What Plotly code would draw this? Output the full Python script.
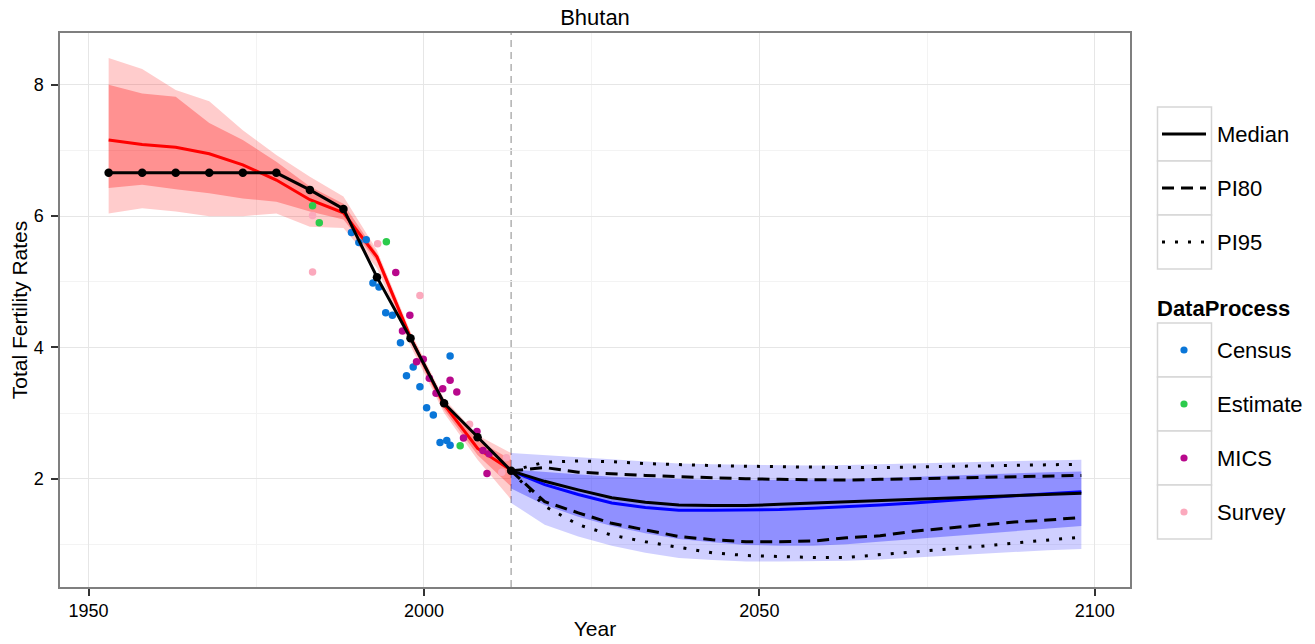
import plotly.graph_objects as go

# ---------------- data ----------------
est_years = [1953, 1958, 1963, 1968, 1973, 1978, 1983, 1988, 1993, 1998, 2003, 2008, 2013]
est_obs = [6.66, 6.66, 6.66, 6.66, 6.66, 6.66, 6.40, 6.11, 5.07, 4.14, 3.15, 2.63, 2.12]
est_median = [7.16, 7.09, 7.05, 6.95, 6.78, 6.55, 6.25, 6.05, 5.38, 4.15, 3.13, 2.46, 2.13]
est_u95 = [8.41, 8.24, 7.92, 7.75, 7.31, 6.93, 6.60, 6.30, 5.48, 4.24, 3.22, 2.66, 2.39]
est_u80 = [8.00, 7.87, 7.82, 7.42, 7.16, 6.83, 6.45, 6.19, 5.43, 4.20, 3.19, 2.58, 2.29]
est_l80 = [6.43, 6.48, 6.41, 6.35, 6.27, 6.22, 6.07, 5.95, 5.31, 4.08, 3.05, 2.36, 1.88]
est_l95 = [6.04, 6.12, 6.07, 6.00, 6.00, 6.04, 5.84, 5.82, 5.21, 4.02, 3.00, 2.29, 1.68]

proj_years = [2013, 2018, 2023, 2028, 2033, 2038, 2043, 2048, 2053, 2058,
              2063, 2068, 2073, 2078, 2083, 2088, 2093, 2098]
proj_median = [2.12, 1.96, 1.83, 1.71, 1.64, 1.60, 1.59, 1.59, 1.61, 1.63,
               1.65, 1.67, 1.69, 1.71, 1.73, 1.74, 1.76, 1.78]
proj_pi80_up = [2.12, 2.17, 2.10, 2.07, 2.05, 2.03, 2.01, 2.00, 1.99, 1.98,
                1.98, 1.99, 2.00, 2.01, 2.02, 2.03, 2.04, 2.05]
proj_pi80_lo = [2.12, 1.65, 1.48, 1.32, 1.22, 1.12, 1.07, 1.04, 1.04, 1.05,
                1.10, 1.13, 1.20, 1.25, 1.30, 1.34, 1.37, 1.41]
proj_pi95_up = [2.12, 2.25, 2.27, 2.26, 2.23, 2.21, 2.20, 2.19, 2.18, 2.17,
                2.17, 2.17, 2.18, 2.18, 2.19, 2.20, 2.21, 2.22]
proj_pi95_lo = [2.12, 1.58, 1.30, 1.14, 1.04, 0.96, 0.87, 0.83, 0.81, 0.80,
                0.80, 0.84, 0.88, 0.93, 0.97, 1.02, 1.06, 1.11]

band_median = [2.12, 1.91, 1.76, 1.63, 1.56, 1.52, 1.52, 1.52, 1.53, 1.55,
               1.57, 1.60, 1.63, 1.67, 1.71, 1.74, 1.77, 1.80]
band_u95 = [2.39, 2.36, 2.32, 2.29, 2.26, 2.23, 2.22, 2.21, 2.20, 2.20,
            2.21, 2.22, 2.23, 2.24, 2.25, 2.26, 2.28, 2.29]
band_u80 = [2.14, 2.10, 2.06, 2.03, 2.01, 1.99, 1.98, 1.98, 1.98, 1.98,
            1.99, 2.01, 2.03, 2.05, 2.06, 2.08, 2.10, 2.11]
band_l80 = [1.85, 1.60, 1.42, 1.28, 1.17, 1.08, 1.03, 0.99, 0.98, 0.98,
            1.00, 1.04, 1.08, 1.12, 1.17, 1.21, 1.25, 1.28]
band_l95 = [1.63, 1.30, 1.12, 0.98, 0.87, 0.79, 0.76, 0.74, 0.74, 0.74,
            0.75, 0.77, 0.80, 0.83, 0.86, 0.88, 0.91, 0.93]

census_x = [1989.2, 1990.3, 1991.4, 1992.4, 1993.3, 1994.3, 1995.3, 1996.5, 1997.4,
            1998.4, 1999.4, 2000.4, 2001.4, 2002.4, 2003.4, 2003.9, 2003.9]
census_y = [5.75, 5.60, 5.64, 4.98, 4.92, 4.53, 4.49, 4.07, 3.57,
            3.70, 3.40, 3.08, 2.97, 2.55, 2.58, 2.51, 3.87]
estimate_x = [1983.4, 1984.4, 1994.4, 2005.4]
estimate_y = [6.16, 5.90, 5.61, 2.50]
mics_x = [1995.8, 1996.8, 1997.9, 1998.9, 1999.9, 2000.8, 2001.8, 2002.8, 2003.9,
          2004.9, 2005.9, 2007.9, 2008.8, 2009.7, 2009.4]
mics_y = [5.14, 4.25, 4.49, 3.78, 3.82, 3.53, 3.30, 3.37, 3.50,
          3.32, 2.62, 2.72, 2.43, 2.38, 2.08]
survey_x = [1983.4, 1983.4, 1993.1, 1999.4, 2006.8, 2011.6, 2012.3]
survey_y = [6.01, 5.15, 5.58, 4.79, 2.83, 2.10, 2.32]

source_names = ["Census", "Estimate", "MICS", "Survey"]
source_colors = ["#0a76d8", "#2ccb4c", "#b8088c", "#fba9bd"]
line_names = ["Median", "PI80", "PI95"]
line_dashes = ["solid", "12px,7px", "3px,10px"]

# ---------------- figure ----------------
W, H = 1315, 644
ML, MR, MT, MB = 60, 185, 33, 57
FONT = "Liberation Sans, Arial, Helvetica, sans-serif"

fig = go.Figure()


def band(x, hi, lo, color):
    fig.add_trace(go.Scatter(x=x, y=hi, mode="lines", line=dict(width=0),
                             hoverinfo="skip", showlegend=False))
    fig.add_trace(go.Scatter(x=x, y=lo, mode="lines", line=dict(width=0),
                             fill="tonexty", fillcolor=color,
                             hoverinfo="skip", showlegend=False))


band(est_years, est_u95, est_l95, "rgba(255,0,0,0.2)")
band(est_years, est_u80, est_l80, "rgba(255,0,0,0.29)")
band(proj_years, band_u95, band_l95, "rgba(0,0,255,0.19)")
band(proj_years, band_u80, band_l80, "rgba(0,0,255,0.3)")

fig.add_trace(go.Scatter(x=est_years, y=est_median, mode="lines",
                         line=dict(color="#ff0000", width=3), showlegend=False))
fig.add_trace(go.Scatter(x=proj_years, y=band_median, mode="lines",
                         line=dict(color="#0000ff", width=3), showlegend=False))

for name, xs, ys, col in zip(source_names, [census_x, estimate_x, mics_x, survey_x],
                             [census_y, estimate_y, mics_y, survey_y], source_colors):
    fig.add_trace(go.Scatter(x=xs, y=ys, mode="markers", name=name,
                             marker=dict(color=col, size=7.5, line=dict(width=0)),
                             showlegend=False))

fig.add_trace(go.Scatter(x=est_years, y=est_obs, mode="lines+markers",
                         line=dict(color="black", width=3),
                         marker=dict(color="black", size=8.5), showlegend=False))

for ys, dash in [(proj_median, line_dashes[0]),
                 (proj_pi80_up, line_dashes[1]), (proj_pi80_lo, line_dashes[1]),
                 (proj_pi95_up, line_dashes[2]), (proj_pi95_lo, line_dashes[2])]:
    fig.add_trace(go.Scatter(x=proj_years, y=ys, mode="lines",
                             line=dict(color="black", width=3, dash=dash),
                             showlegend=False))

fig.add_vline(x=est_years[-1], line=dict(color="#b5b5b5", width=1.6, dash="7px,5px"),
              layer="below")

# ---------------- custom legend (decoration) ----------------
pw, ph = W - ML - MR, H - MT - MB


def px(x):
    return (x - ML) / pw


def py(y):
    return (H - MB - y) / ph


box_l, box_r = 1157.5, 1211.5
key_border = "#d6d6d6"

# group 1
tops1 = [107, 161, 215]
for i, (nm, dash) in enumerate(zip(line_names, line_dashes)):
    t = tops1[i]
    fig.add_shape(type="rect", xref="paper", yref="paper",
                  x0=px(box_l), x1=px(box_r), y0=py(t), y1=py(t + 54),
                  line=dict(color=key_border, width=1.5), fillcolor="white", layer="above")
    cy = t + 27
    fig.add_shape(type="line", xref="paper", yref="paper",
                  x0=px(1162), x1=px(1206), y0=py(cy), y1=py(cy),
                  line=dict(color="black", width=3, dash=dash), layer="above")
    fig.add_annotation(xref="paper", yref="paper", x=px(1215), y=py(cy),
                       text=nm, showarrow=False, xanchor="left", yanchor="middle",
                       font=dict(size=22, color="black", family=FONT))

fig.add_annotation(xref="paper", yref="paper", x=px(1155), y=py(308),
                   text="<b>DataProcess</b>", showarrow=False, xanchor="left",
                   yanchor="middle", font=dict(size=22, color="black", family=FONT))
tops2 = [323, 377, 431, 485]
for i, (nm, col) in enumerate(zip(source_names, source_colors)):
    t = tops2[i]
    fig.add_shape(type="rect", xref="paper", yref="paper",
                  x0=px(box_l), x1=px(box_r), y0=py(t), y1=py(t + 54),
                  line=dict(color=key_border, width=1.5), fillcolor="white", layer="above")
    cy = t + 27
    r = 3.6
    fig.add_shape(type="circle", xref="paper", yref="paper",
                  x0=px(1184 - r), x1=px(1184 + r), y0=py(cy + r), y1=py(cy - r),
                  line=dict(width=0), fillcolor=col, layer="above")
    fig.add_annotation(xref="paper", yref="paper", x=px(1215), y=py(cy),
                       text=nm, showarrow=False, xanchor="left", yanchor="middle",
                       font=dict(size=22, color="black", family=FONT))

fig.update_layout(
    width=W, height=H,
    margin=dict(l=ML, r=MR, t=MT, b=MB, autoexpand=False),
    paper_bgcolor="white", plot_bgcolor="white",
    font=dict(family=FONT, color="black"),
    showlegend=False,
    title=dict(text="Bhutan", x=(ML + pw / 2) / W, xanchor="center",
               y=1 - 17 / H, yanchor="middle", font=dict(size=22, color="black")),
)

fig.update_xaxes(range=[1945.75, 2105.25], tickvals=[1950, 2000, 2050, 2100],
                 ticks="outside", ticklen=7, tickwidth=1.5, tickcolor="#333333",
                 tickfont=dict(size=18, color="black"), ticklabelstandoff=0,
                 showgrid=True, gridcolor="#e6e6e6", gridwidth=1.2,
                 minor=dict(tickvals=[1975, 2025, 2075], showgrid=True,
                            gridcolor="#f3f3f3", gridwidth=1.2),
                 showline=True, linecolor="#7f7f7f", linewidth=1.5, mirror=True,
                 zeroline=False, automargin=False,
                 title=dict(text="Year", font=dict(size=21, color="black"), standoff=1))
fig.update_yaxes(range=[0.35, 8.79], tickvals=[2, 4, 6, 8],
                 ticks="outside", ticklen=7, tickwidth=1.5, tickcolor="#333333",
                 tickfont=dict(size=18, color="black"), ticklabelstandoff=4,
                 showgrid=True, gridcolor="#e6e6e6", gridwidth=1.2,
                 minor=dict(tickvals=[1, 3, 5, 7], showgrid=True,
                            gridcolor="#f3f3f3", gridwidth=1.2),
                 showline=True, linecolor="#7f7f7f", linewidth=1.5, mirror=True,
                 zeroline=False, automargin=False,
                 title=dict(text="Total Fertility Rates", font=dict(size=21, color="black"),
                            standoff=0))

fig.write_html("out.html")
